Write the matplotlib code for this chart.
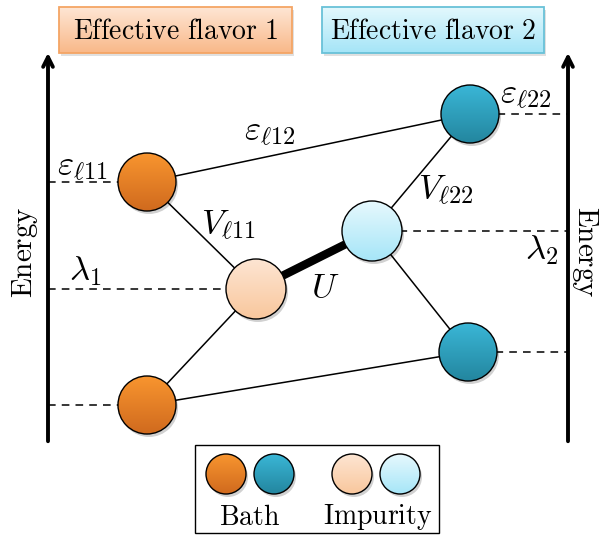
import matplotlib.pyplot as plt
import numpy as np
from matplotlib.patches import Circle, Rectangle

plt.rcParams['mathtext.fontset'] = 'cm'

# node positions (pixel coords, y downwards)
bath_names = ['b11', 'b12', 'b21', 'b22']
bath_x = [147, 147, 470, 468]
bath_y = [182, 405, 114, 352]
imp_x = [256, 372]
imp_y = [289, 231]

orange = ('#f8952f', '#d06a1e')
blue = ('#3ab6d6', '#23869f')
lorange = ('#fde5d2', '#f9c79d')
lblue = ('#e6f8fd', '#a6e6f8')

fig = plt.figure(figsize=(6, 5.36), dpi=100)
ax = fig.add_axes([0, 0, 1, 1])
ax.axis('off')


def hexrgb(c):
    c = c.lstrip('#')
    return np.array([int(c[i:i + 2], 16) / 255 for i in (0, 2, 4)])


def grad_img(top, bot):
    t = np.linspace(0, 1, 64)[:, None, None]
    return hexrgb(top) * (1 - t) + hexrgb(bot) * t


def node(x, y, r, cols, z=5):
    sh = Circle((x + 2, y + 3), r, fc='k', ec='none', alpha=0.18, zorder=z)
    ax.add_patch(sh)
    im = ax.imshow(grad_img(*cols), extent=(x - r, x + r, y + r, y - r),
                   interpolation='bilinear', zorder=z + 1, aspect='auto')
    clip = Circle((x, y), r, transform=ax.transData)
    im.set_clip_path(clip)
    ax.add_patch(Circle((x, y), r, fc='none', ec='k', lw=1.0, zorder=z + 2))


def box(x0, x1, y0, y1, cols, ec, label):
    ax.add_patch(Rectangle((x0 + 2, y0 + 3), x1 - x0, y1 - y0, fc='k', ec='none', alpha=0.12, zorder=2))
    ax.imshow(grad_img(*cols), extent=(x0, x1, y1, y0), interpolation='bilinear', zorder=3, aspect='auto')
    ax.add_patch(Rectangle((x0, y0), x1 - x0, y1 - y0, fc='none', ec=ec, lw=1.3, zorder=4))
    ax.text((x0 + x1) / 2, (y0 + y1) / 2 + 1, r'$\mathrm{' + label.replace(' ', r'\ ') + '}$',
            ha='center', va='center', fontsize=20, zorder=5)


# energy axes
for xa in (48, 568):
    ax.annotate('', xy=(xa, 50), xytext=(xa, 444),
                arrowprops=dict(arrowstyle='->,head_width=0.35,head_length=0.7', lw=2.8, color='k'))

# dashed levels
dash = dict(color='k', lw=1.1, ls=(0, (5, 4)), zorder=1)
ax.plot([48, bath_x[0]], [bath_y[0]] * 2, **dash)
ax.plot([48, bath_x[1]], [bath_y[1]] * 2, **dash)
ax.plot([48, imp_x[0]], [imp_y[0]] * 2, **dash)
ax.plot([bath_x[2], 568], [bath_y[2]] * 2, **dash)
ax.plot([bath_x[3], 568], [bath_y[3]] * 2, **dash)
ax.plot([imp_x[1], 568], [imp_y[1]] * 2, **dash)

# couplings
solid = dict(color='k', lw=1.1, zorder=1)
ax.plot([bath_x[0], bath_x[2]], [bath_y[0], bath_y[2]], **solid)
ax.plot([bath_x[1], bath_x[3]], [bath_y[1], bath_y[3]], **solid)
for i in (0, 1):
    ax.plot([bath_x[i], imp_x[0]], [bath_y[i], imp_y[0]], **solid)
for i in (2, 3):
    ax.plot([bath_x[i], imp_x[1]], [bath_y[i], imp_y[1]], **solid)
ax.plot(imp_x, imp_y, color='k', lw=6, zorder=1, solid_capstyle='butt')

# nodes
node(bath_x[0], bath_y[0], 29, orange)
node(bath_x[1], bath_y[1], 29, orange)
node(bath_x[2], bath_y[2], 29, blue)
node(bath_x[3], bath_y[3], 29, blue)
node(imp_x[0], imp_y[0], 30, lorange)
node(imp_x[1], imp_y[1], 30, lblue)

# labels
fs = 25
ax.text(57, 166, r'$\varepsilon_{\ell 11}$', fontsize=fs, ha='left', va='center', zorder=10)
ax.text(244, 131, r'$\varepsilon_{\ell 12}$', fontsize=fs, ha='left', va='center')
ax.text(500, 94, r'$\varepsilon_{\ell 22}$', fontsize=fs, ha='left', va='center')
ax.text(201, 225, r'$V_{\ell 11}$', fontsize=fs, ha='left', va='center')
ax.text(418, 190, r'$V_{\ell 22}$', fontsize=fs, ha='left', va='center')
ax.text(69, 271, r'$\lambda_1$', fontsize=fs, ha='left', va='center')
ax.text(525, 250, r'$\lambda_2$', fontsize=fs, ha='left', va='center')
ax.text(311, 287, r'$U$', fontsize=fs, ha='left', va='center')
ax.text(25, 252, r'$\mathrm{Energy}$', fontsize=21, rotation=90, ha='center', va='center')
ax.text(585, 252, r'$\mathrm{Energy}$', fontsize=21, rotation=-90, ha='center', va='center')

# flavor boxes
box(59, 292, 7, 53, ('#fee6d4', '#f9b889'), '#f4a565', 'Effective flavor 1')
box(322, 544, 7, 53, ('#e3f8fd', '#a5e5f7'), '#69c1d8', 'Effective flavor 2')

# legend
ax.add_patch(Rectangle((195, 445), 244, 88, fc='white', ec='k', lw=1.0, zorder=1))
leg_x = [226, 274, 352, 400]
leg_cols = [orange, blue, lorange, lblue]
for lx, lc in zip(leg_x, leg_cols):
    node(lx, 474, 20, lc)
ax.text(250, 517, r'$\mathrm{Bath}$', fontsize=20, ha='center', va='center')
ax.text(378, 517, r'$\mathrm{Impurity}$', fontsize=20, ha='center', va='center')

ax.set_xlim(0, 600)
ax.set_ylim(536, 0)
fig.savefig('out.png', dpi=100)
